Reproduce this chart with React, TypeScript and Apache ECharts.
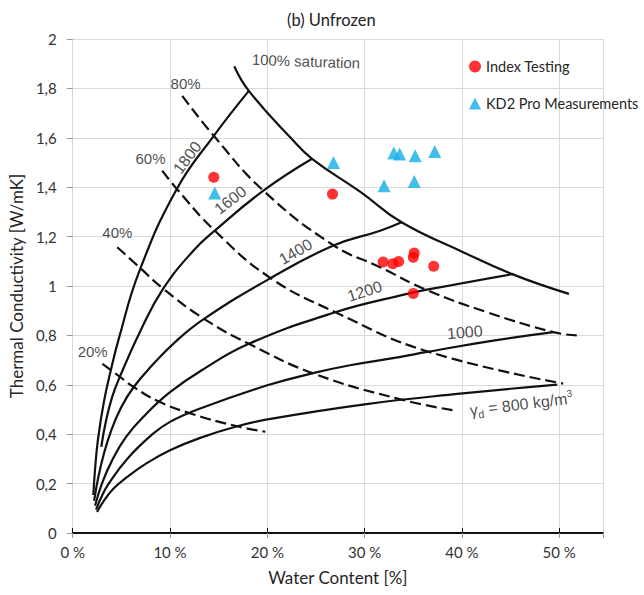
import { useEffect, useRef } from "react";
import * as echarts from "echarts";

// Kersten chart, unfrozen soil: water content [%] vs thermal conductivity [W/mK]
const saturation100: [number, number][] = [
  [16.6, 1.89], [18.1, 1.79], [22.4, 1.6], [24.6, 1.515], [29.6, 1.38],
  [33.8, 1.258], [39.8, 1.143], [45.3, 1.046], [51.0, 0.968],
];

// constant dry density lines (kg/m3)
const density1800: [number, number][] = [
  [2.12, 0.154], [2.3, 0.26], [2.6, 0.38], [3.2, 0.53], [3.9, 0.656],
  [4.76, 0.79], [6.85, 1.06], [10.7, 1.393], [14.5, 1.608], [18.1, 1.79],
];
const density1600: [number, number][] = [
  [2.94, 0.349], [3.4, 0.45], [4.05, 0.55], [4.86, 0.634], [6.98, 0.82],
  [9.3, 0.989], [12.4, 1.143], [14.6, 1.224], [19.6, 1.386], [24.6, 1.515],
];
const density1400: [number, number][] = [
  [2.2, 0.13], [2.6, 0.22], [3.2, 0.32], [4.0, 0.42], [5.0, 0.51],
  [6.23, 0.589], [8.0, 0.672], [10.6, 0.776], [13.5, 0.867], [20.3, 1.031],
  [26.8, 1.164], [31.6, 1.224], [33.8, 1.258],
];
const density1200: [number, number][] = [
  [2.3, 0.11], [3.0, 0.2], [4.0, 0.29], [5.5, 0.39], [7.5, 0.48],
  [10.0, 0.57], [13.1, 0.655], [18.1, 0.766], [27.0, 0.894], [33.7, 0.962],
  [36.4, 0.985], [45.3, 1.049],
];
const density1000: [number, number][] = [
  [2.4, 0.095], [3.0, 0.15], [3.7, 0.2], [5.6, 0.3], [8.2, 0.4],
  [10.0, 0.45], [13.1, 0.504], [20.0, 0.598], [24.8, 0.648], [28.5, 0.679],
  [33.7, 0.713], [36.4, 0.733], [42.9, 0.777], [49.4, 0.813],
];
const density800: [number, number][] = [
  [2.5, 0.085], [3.2, 0.13], [4.2, 0.18], [5.6, 0.227], [7.5, 0.28],
  [10.0, 0.335], [13.1, 0.385], [16.9, 0.432], [20.0, 0.46], [30.0, 0.521],
  [39.8, 0.564], [49.8, 0.601],
];

// constant degree of saturation lines
const saturation80: [number, number][] = [
  [11.26, 1.77], [14.5, 1.608], [19.6, 1.386], [26.8, 1.165], [31.6, 1.076],
  [36.3, 0.985], [42.5, 0.895], [49.4, 0.813], [51.8, 0.8],
];
const saturation60: [number, number][] = [
  [9.2, 1.467], [10.7, 1.393], [14.6, 1.224], [20.3, 1.033], [27.0, 0.894],
  [36.4, 0.736], [50.4, 0.605],
];
const saturation40: [number, number][] = [
  [4.58, 1.157], [6.85, 1.076], [9.3, 0.989], [13.5, 0.867], [18.1, 0.766],
  [24.8, 0.645], [33.7, 0.541], [39.5, 0.494],
];
const saturation20: [number, number][] = [
  [3.05, 0.685], [3.9, 0.66], [4.86, 0.632], [6.23, 0.592], [8.7, 0.535],
  [12.1, 0.484], [16.9, 0.432], [19.8, 0.41],
];

// measurements
const indexWater = [14.5, 26.7, 31.9, 32.9, 33.5, 35.0, 35.1, 37.1, 35.0];
const indexConductivity = [1.44, 1.372, 1.097, 1.09, 1.099, 1.116, 1.134, 1.08, 0.97];
const kd2Water = [14.6, 26.8, 32.0, 33.0, 33.6, 35.2, 35.1, 37.2];
const kd2Conductivity = [1.377, 1.5, 1.406, 1.538, 1.534, 1.527, 1.423, 1.545];

// curve annotations: [water content, conductivity, text, rotation, font size]
const curveLabels: [number, number, string, number, number][] = [
  [23.97, 1.91, "100% saturation", -2, 15],
  [11.6, 1.818, "80%", 0, 15],
  [8.0, 1.515, "60%", 0, 15],
  [4.59, 1.217, "40%", 0, 15],
  [2.05, 0.733, "20%", 0, 15],
  [11.78, 1.52, "1800", 53, 16],
  [16.2, 1.348, "1600", 38, 16],
  [22.9, 1.139, "1400", 30, 16],
  [30.0, 0.979, "1200", 18, 16],
  [40.3, 0.813, "1000", 5, 16],
  [46.1, 0.521, "{g|γ}{d|d} = 800 kg/m{s|3}", 7, 16],
];

const solidCurves = [saturation100, density1800, density1600, density1400, density1200, density1000, density800];
const dashedCurves = [saturation80, saturation60, saturation40, saturation20];

const uiFont = "Lato, 'Open Sans', sans-serif";
const diagramFont = "'Liberation Sans', Arial, sans-serif";

export default function App() {
  const ref = useRef<HTMLDivElement>(null);

  useEffect(() => {
    document.body.style.margin = "0";
    const chart = echarts.init(ref.current!, undefined, { renderer: "svg" });

    const curveSeries = (d: [number, number][], dashed: boolean) => ({
      type: "line",
      data: d,
      symbol: "none",
      smooth: 0.45,
      silent: true,
      z: 2,
      lineStyle: dashed
        ? { color: "#111", width: 2.2, type: [11, 5] }
        : { color: "#111", width: 2.2 },
    });

    const option: any = {
      animation: false,
      backgroundColor: "#fff",
      title: {
        text: "(b) Unfrozen",
        left: 282,
        top: 6,
        textStyle: { fontFamily: uiFont, fontSize: 16.5, fontWeight: "normal", color: "#222" },
      },
      legend: {
        data: ["Index Testing", "KD2 Pro Measurements"],
        orient: "vertical",
        left: 464,
        top: 54,
        itemGap: 22,
        itemWidth: 12,
        itemHeight: 12,
        textStyle: { fontFamily: uiFont, fontSize: 14.5, color: "#262626" },
      },
      grid: { left: 72, right: 41, top: 39, bottom: 62 },
      xAxis: [
        {
          type: "value",
          min: 0,
          max: 54.5,
          interval: 10,
          name: "Water Content [%]",
          nameLocation: "middle",
          nameGap: 36,
          nameTextStyle: { fontFamily: uiFont, fontSize: 17, color: "#262626" },
          axisLine: { show: true, lineStyle: { color: "#111", width: 2 } },
          axisTick: { show: true, inside: true, length: 5, lineStyle: { color: "#111" } },
          axisLabel: {
            formatter: (v: number) => `${v} %`,
            showMaxLabel: false,
            fontFamily: uiFont,
            fontSize: 15,
            color: "#333",
            margin: 11,
          },
          splitLine: { show: true, lineStyle: { color: "#d9d9d9", width: 1 } },
        },
        {
          type: "value",
          position: "top",
          min: 0,
          max: 54.5,
          interval: 10,
          axisLine: { show: false },
          axisTick: { show: true, inside: true, length: 5, lineStyle: { color: "#999" } },
          axisLabel: { show: false },
          splitLine: { show: false },
        },
      ],
      yAxis: [
        {
          type: "value",
          min: 0,
          max: 2,
          interval: 0.2,
          name: "Thermal Conductivity [W/mK]",
          nameLocation: "middle",
          nameGap: 45,
          nameTextStyle: { fontFamily: uiFont, fontSize: 17, color: "#262626" },
          axisLine: { show: false },
          axisTick: { show: false },
          axisLabel: {
            formatter: (v: number) => String(Math.round(v * 10) / 10).replace(".", ","),
            fontFamily: uiFont,
            fontSize: 15,
            color: "#333",
            margin: 16,
          },
          splitLine: { show: true, lineStyle: { color: "#d9d9d9", width: 1 } },
        },
        {
          type: "value",
          position: "right",
          min: 0,
          max: 2,
          interval: 0.2,
          axisLine: { show: false },
          axisTick: { show: true, inside: true, length: 6, lineStyle: { color: "#999" } },
          axisLabel: { show: false },
          splitLine: { show: false },
        },
      ],
      series: [
        ...solidCurves.map((d) => curveSeries(d, false)),
        ...dashedCurves.map((d) => curveSeries(d, true)),
        {
          type: "scatter",
          silent: true,
          symbolSize: 0,
          z: 3,
          data: curveLabels.map(([w, k, text, rot, size]) => ({
            value: [w, k],
            label: { formatter: text, rotate: rot, fontSize: size },
          })),
          label: {
            show: true,
            position: "inside",
            fontFamily: diagramFont,
            color: "#1a1a1a",
            rich: {
              g: { fontFamily: diagramFont, fontSize: 16, color: "#1a1a1a" },
              d: { fontFamily: diagramFont, fontSize: 11, color: "#1a1a1a", padding: [10, 0, 0, 0] },
              s: { fontFamily: diagramFont, fontSize: 10, color: "#1a1a1a", padding: [0, 0, 10, 0] },
            },
          },
        },
        {
          name: "Index Testing",
          type: "scatter",
          symbol: "circle",
          symbolSize: 11,
          z: 5,
          itemStyle: { color: "#ff0000" },
          data: indexWater.map((w, i) => [w, indexConductivity[i]]),
        },
        {
          name: "KD2 Pro Measurements",
          type: "scatter",
          symbol: "triangle",
          symbolSize: 13,
          z: 5,
          itemStyle: { color: "#13aee6" },
          data: kd2Water.map((w, i) => [w, kd2Conductivity[i]]),
        },
      ],
    };

    chart.setOption(option);
    return () => chart.dispose();
  }, []);

  return <div ref={ref} style={{ width: 644, height: 595 }} />;
}
